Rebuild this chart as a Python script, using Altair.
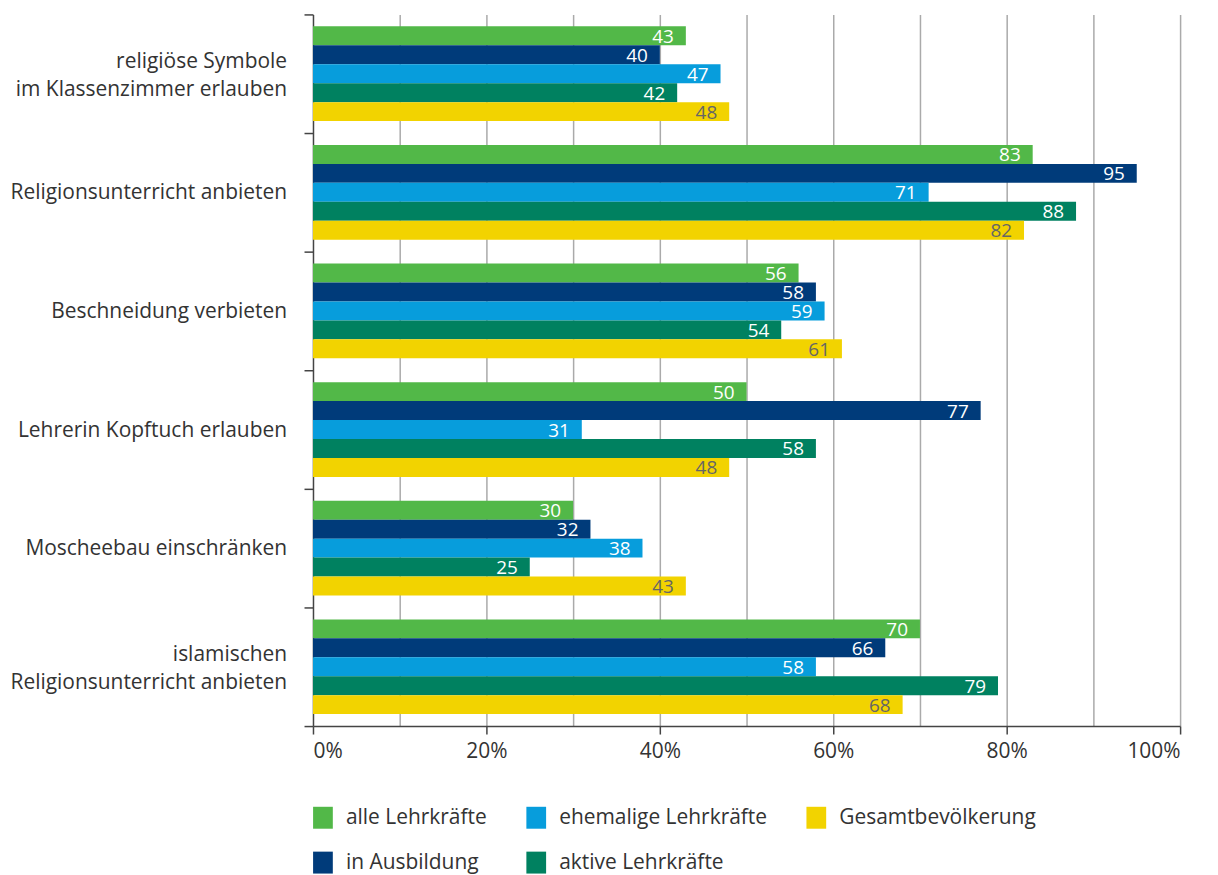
import altair as alt
import pandas as pd

categories = [
    "religiöse Symbole|im Klassenzimmer erlauben",
    "Religionsunterricht anbieten",
    "Beschneidung verbieten",
    "Lehrerin Kopftuch erlauben",
    "Moscheebau einschränken",
    "islamischen|Religionsunterricht anbieten",
]
series = ["alle Lehrkräfte", "in Ausbildung", "ehemalige Lehrkräfte",
          "aktive Lehrkräfte", "Gesamtbevölkerung"]
alle = [43, 83, 56, 50, 30, 70]
ausbildung = [40, 95, 58, 77, 32, 66]
ehemalige = [47, 71, 59, 31, 38, 58]
aktive = [42, 88, 54, 58, 25, 79]
gesamt = [48, 82, 61, 48, 43, 68]
colors = ["#52b848", "#003b7a", "#079ddc", "#008160", "#f2d300"]

rows = []
for s, vals in zip(series, [alle, ausbildung, ehemalige, aktive, gesamt]):
    for c, v in zip(categories, vals):
        rows.append({"cat": c, "series": s, "value": v})
df = pd.DataFrame(rows)

cat_df = pd.DataFrame({"cat": categories,
                       "multi": ["|" in c for c in categories]})
single_df = cat_df[~cat_df["multi"]]
multi_df = cat_df[cat_df["multi"]]

FONT = "Open Sans"

y_enc = alt.Y("cat:N", sort=categories, title=None,
              scale=alt.Scale(paddingInner=0, paddingOuter=0),
              axis=alt.Axis(tickBand="extent", labels=False,
                            tickSize=9, tickColor="#444444", domainColor="#444444",
                            tickWidth=1.5, domainWidth=1.5, grid=False))
yoff = alt.YOffset("series:N", sort=series,
                   scale=alt.Scale(paddingOuter=0.63, paddingInner=0))
x_enc = alt.X("value:Q", title=None,
              scale=alt.Scale(domain=[0, 100], nice=False),
              axis=alt.Axis(values=list(range(0, 101, 10)),
                            labelExpr="datum.value % 20 === 0 ? datum.value + '%' : ''",
                            labelFontSize=21, labelFont=FONT, labelColor="#333333",
                            labelPadding=7, tickSize=8, tickColor="#444444",
                            tickWidth=1.5, domainColor="#444444", domainWidth=1.5,
                            tickOpacity={"condition": {"test": "datum.value % 20 !== 0", "value": 0}, "value": 1},
                            grid=True, gridColor="#aaaaaa", gridWidth=1.5,
                            gridOpacity={"condition": {"test": "datum.value === 0", "value": 0}, "value": 1}))

bars = alt.Chart(df).mark_bar().encode(
    y=y_enc, yOffset=yoff, x=x_enc,
    color=alt.Color("series:N",
                    scale=alt.Scale(domain=series, range=colors),
                    legend=alt.Legend(title=None, orient="none", legendX=-1, legendY=795,
                                      columns=3, columnPadding=38, rowPadding=23,
                                      symbolType="M-0.9,-1L0.9,-1L0.9,1L-0.9,1Z",
                                      symbolSize=484, symbolStrokeWidth=0,
                                      symbolOpacity=1,
                                      labelFontSize=21, labelFont=FONT,
                                      labelColor="#333333", labelOffset=12,
                                      labelLimit=0)),
)

text = alt.Chart(df).mark_text(align="right", baseline="middle", dx=-12, dy=1,
                               fontSize=19, font=FONT).encode(
    y=alt.Y("cat:N", sort=categories), yOffset=alt.YOffset("series:N", sort=series),
    x=alt.X("value:Q"),
    text=alt.Text("value:Q"),
    color=alt.condition(alt.datum.series == "Gesamtbevölkerung",
                        alt.value("#666666"), alt.value("white")),
)

ylab_single = alt.Chart(single_df).mark_text(
    align="right", baseline="middle", fontSize=21, font=FONT, color="#333333",
    dy=1).encode(
    y=alt.Y("cat:N", sort=categories), x=alt.value(-26), text="cat:N")

ylab_multi = alt.Chart(multi_df).mark_text(
    align="right", baseline="middle", fontSize=21, font=FONT, color="#333333",
    lineBreak="|", lineHeight=28, dy=-12).encode(
    y=alt.Y("cat:N", sort=categories), x=alt.value(-26), text="cat:N")

chart = alt.layer(bars, text, ylab_single, ylab_multi).properties(
    width=870, height=714,
    autosize=alt.AutoSizeParams(type="none"),
    padding={"left": 306, "top": 5, "right": 30, "bottom": 150},
).configure_view(stroke=None)

chart.save("out.html", embed_options={"renderer": "svg", "actions": False})
